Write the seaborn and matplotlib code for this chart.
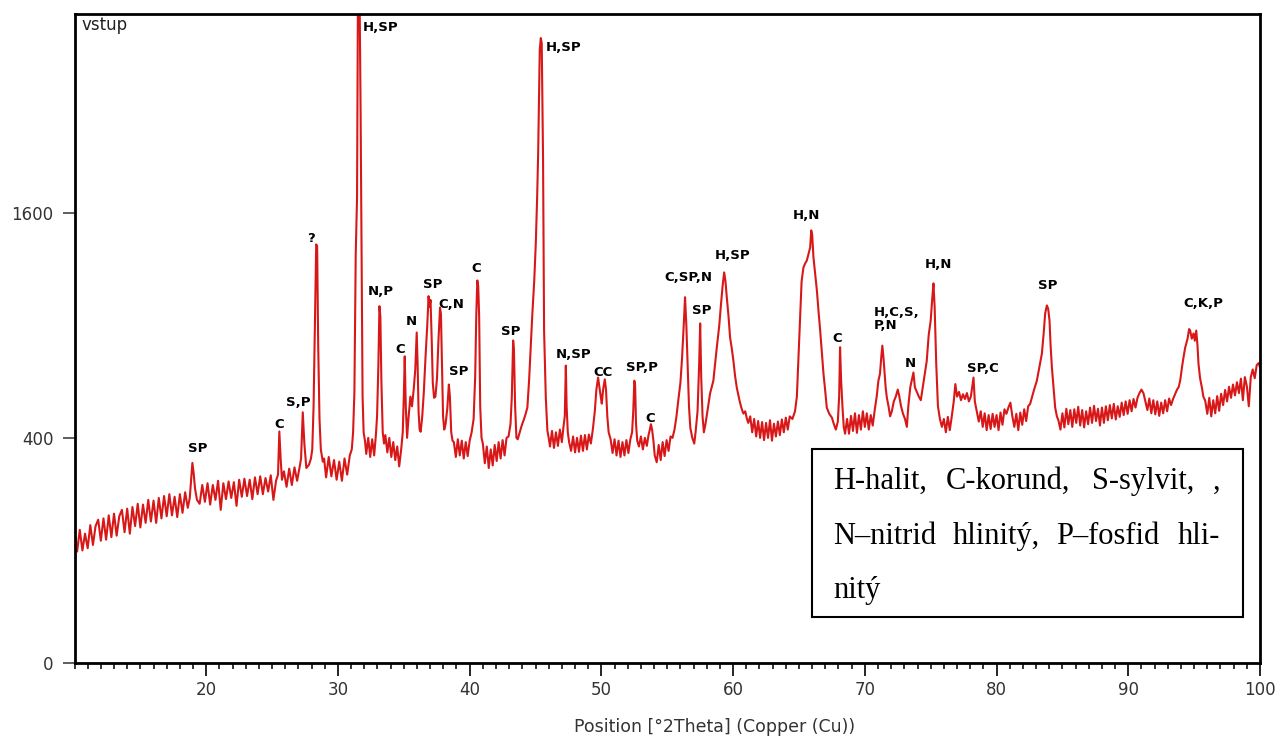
import numpy as np
import matplotlib
matplotlib.use("Agg")
import matplotlib.pyplot as plt
import seaborn as sns
from matplotlib.patches import Rectangle
from matplotlib.ticker import MultipleLocator, FixedLocator

# ---------------- data (2Theta [deg], counts) ----------------
seg_10_19 = [(10.0,135),(10.2,98),(10.4,140),(10.6,100),(10.8,132),(11.0,104),(11.2,150),(11.4,110),
             (11.6,148),(11.8,162),(12.0,118),(12.2,165),(12.4,120),(12.6,172),(12.8,125),(13.0,176),
             (13.2,128),(13.4,170),(13.6,185),(13.8,135),(14.0,188),(14.2,132),(14.4,192),(14.6,148),
             (14.8,200),(15.0,145),(15.2,198),(15.4,155),(15.6,210),(15.8,158),(16.0,208),(16.2,155),
             (16.4,215),(16.6,165),(16.8,220),(17.0,170),(17.2,225),(17.4,172),(17.6,218),(17.8,168),
             (18.0,225),(18.2,178),(18.4,230),(18.6,190),(18.75,215),(18.85,262),(18.95,316),(19.05,283),
             (19.15,240),(19.3,210)]
seg_19_28 = [(19.5,200),(19.7,250),(19.9,205),(20.1,255),(20.3,198),(20.5,250),(20.7,210),(20.9,262),
             (21.1,185),(21.3,255),(21.5,212),(21.7,260),(21.9,215),(22.1,258),(22.3,195),(22.5,265),
             (22.7,218),(22.9,268),(23.1,220),(23.3,265),(23.5,212),(23.7,272),(23.9,225),(24.1,275),
             (24.3,225),(24.5,270),(24.7,232),(24.9,278),(25.1,210),(25.3,262),(25.45,280),(25.55,423),
             (25.65,330),(25.75,265),(25.9,290),(26.1,245),(26.3,298),(26.5,250),(26.7,302),(26.9,262),
             (27.1,305),(27.2,330),(27.33,496),(27.45,380),(27.6,300),(27.8,310),(27.95,330)]
seg_28_33 = [(28.05,360),(28.15,520),(28.25,900),(28.35,1383),(28.42,1370),(28.5,800),(28.6,470),
             (28.7,360),(28.85,320),(28.95,330),(29.1,272),(29.3,335),(29.5,275),(29.7,325),(29.9,265),
             (30.1,320),(30.3,262),(30.5,330),(30.7,280),(30.9,340),(31.05,360),(31.15,420),(31.25,580),
             (31.35,1320),(31.45,1711),(31.52,3600),(31.62,3900),(31.72,2400),(31.8,1300),(31.87,560),
             (31.95,420),(32.05,390),(32.15,345),(32.3,400),(32.45,335),(32.6,395),(32.75,340),(32.88,410)]
seg_33_41 = [(32.97,480),(33.07,703),(33.15,1005),(33.22,950),(33.3,620),(33.4,420),(33.5,380),
             (33.6,410),(33.75,350),(33.9,400),(34.05,335),(34.2,385),(34.35,325),(34.5,370),(34.65,305),
             (34.8,360),(34.92,420),(35.0,560),(35.07,742),(35.15,520),(35.25,400),(35.35,470),(35.5,560),
             (35.62,520),(35.75,590),(35.87,680),(35.98,862),(36.05,700),(36.12,500),(36.2,430),(36.28,422),
             (36.4,480),(36.52,580),(36.65,740),(36.78,900),(36.88,1062),(36.95,1000),(37.03,1040),
             (37.12,820),(37.2,620),(37.3,555),(37.4,560),(37.52,640),(37.63,820),(37.75,997),(37.82,960),
             (37.9,700),(37.98,480),(38.07,430),(38.17,450),(38.3,510),(38.42,612),(38.5,560),(38.6,420),
             (38.7,390),(38.8,385),(38.95,335),(39.1,395),(39.25,340),(39.4,390),(39.55,330),(39.7,385),
             (39.85,338),(40.0,390),(40.15,420),(40.3,470),(40.42,650),(40.5,950),(40.58,1155),
             (40.65,1120),(40.72,950),(40.8,520),(40.9,400)]
seg_41_50 = [(41.0,380),(41.15,315),(41.3,370),(41.45,300),(41.6,360),(41.75,308),(41.9,375),
             (42.05,322),(42.2,385),(42.35,330),(42.5,392),(42.65,340),(42.8,400),(42.95,405),(43.1,450),
             (43.2,560),(43.3,821),(43.36,780),(43.45,520),(43.55,400),(43.65,395),(43.8,420),(43.92,440),
             (44.02,455),(44.13,470),(44.25,490),(44.38,515),(44.51,629),(44.64,800),(44.76,964),
             (44.9,1150),(45.02,1390),(45.12,1700),(45.2,2050),(45.32,2965),(45.4,3082),(45.47,3033),
             (45.57,2020),(45.65,872),(45.78,556),(45.9,426),(46.0,400),(46.1,370),(46.25,425),(46.4,365),
             (46.55,420),(46.7,372),(46.85,430),(47.0,385),(47.12,440),(47.22,480),(47.3,698),(47.36,520),
             (47.45,420),(47.55,385),(47.7,355),(47.85,405),(48.0,350),(48.15,400),(48.3,352),(48.45,408),
             (48.6,355),(48.75,410),(48.9,360),(49.05,412),(49.2,380),(49.35,430),(49.5,500),(49.62,590),
             (49.75,643),(49.85,600),(49.95,560),(50.03,531),(50.13,590),(50.26,635),(50.35,590),
             (50.45,480),(50.55,420)]
seg_50_58 = [(50.7,395),(50.85,348),(51.0,395),(51.15,340),(51.3,390),(51.45,335),(51.6,385),
             (51.75,340),(51.9,392),(52.05,348),(52.2,395),(52.33,420),(52.42,500),(52.5,629),(52.56,610),
             (52.63,450),(52.72,390),(52.85,370),(53.0,405),(53.15,360),(53.3,400),(53.45,372),(53.58,410),
             (53.68,430),(53.76,450),(53.85,430),(53.95,390),(54.05,340),(54.2,318),(54.35,375),(54.5,325),
             (54.65,385),(54.8,338),(54.95,392),(55.1,355),(55.25,405),(55.4,400),(55.55,430),(55.7,480),
             (55.85,550),(56.0,620),(56.12,730),(56.25,900),(56.35,1056),(56.45,900),(56.55,690),
             (56.65,520),(56.75,437),(56.9,400),(57.05,380),(57.15,420),(57.3,500),(57.42,700),(57.5,910),
             (57.58,640),(57.68,480),(57.78,420)]
seg_58_68 = [(57.9,450),(58.05,500),(58.25,573),(58.5,629),(58.76,785),(58.95,900),(59.06,998),
             (59.2,1120),(59.32,1204),(59.42,1150),(59.52,1055),(59.65,950),(59.77,836),(59.9,780),
             (60.02,722),(60.15,650),(60.28,598),(60.5,540),(60.65,510),(60.78,491),(60.92,500),(61.05,470),
             (61.15,455),(61.3,480),(61.45,420),(61.6,470),(61.75,405),(61.9,462),(62.05,400),(62.2,458),
             (62.35,392),(62.5,455),(62.65,400),(62.8,465),(62.95,390),(63.1,452),(63.25,405),(63.4,460),
             (63.55,410),(63.7,468),(63.85,420),(64.0,475),(64.15,430),(64.3,480),(64.5,470),(64.7,500),
             (64.84,560),(65.0,800),(65.09,964),(65.2,1150),(65.34,1235),(65.47,1260),(65.6,1279),
             (65.72,1320),(65.85,1363),(65.93,1477),(66.0,1450),(66.1,1298),(66.22,1200),(66.36,1095),
             (66.48,980),(66.61,872),(66.74,760),(66.86,661),(67.0,580),(67.11,515),(67.3,490),(67.5,475),
             (67.65,450),(67.8,430),(67.95,460)]
seg_68_78 = [(68.05,560),(68.12,787),(68.2,630),(68.3,520),(68.4,440),(68.5,415),(68.65,470),(68.8,415),
             (68.95,482),(69.1,425),(69.25,492),(69.4,418),(69.55,485),(69.7,430),(69.85,500),(70.0,440),
             (70.15,492),(70.3,430),(70.45,485),(70.6,445),(70.75,505),(70.9,560),(71.03,629),(71.15,660),
             (71.25,740),(71.33,795),(71.41,740),(71.49,675),(71.58,600),(71.67,556),(71.8,520),(71.92,480),
             (72.05,500),(72.2,540),(72.35,560),(72.5,590),(72.62,560),(72.75,520),(72.9,490),(73.05,470),
             (73.19,440),(73.3,520),(73.45,600),(73.6,640),(73.69,666),(73.8,600),(73.95,580),(74.1,560),
             (74.25,545),(74.4,600),(74.55,660),(74.7,720),(74.85,850),(75.0,926),(75.12,1050),
             (75.21,1137),(75.3,1000),(75.42,707),(75.55,520),(75.7,470),(75.85,440),(76.0,470),
             (76.15,420),(76.3,478),(76.45,428),(76.6,480),(76.75,540),(76.87,614),(77.0,560),(77.15,580),
             (77.3,545),(77.45,570),(77.6,550),(77.75,575),(77.9,540),(78.05,560),(78.15,600),(78.25,643),
             (78.35,540),(78.5,500)]
seg_78_85 = [(78.65,460),(78.8,500),(78.95,440),(79.1,492),(79.25,428),(79.4,485),(79.55,432),
             (79.7,490),(79.85,440),(80.0,485),(80.15,428),(80.3,495),(80.45,448),(80.6,508),(80.75,490),
             (80.9,515),(81.05,535),(81.2,480),(81.35,440),(81.5,490),(81.65,428),(81.8,495),(81.95,448),
             (82.1,508),(82.25,462),(82.4,520),(82.55,530),(82.7,560),(82.85,590),(83.06,629),(83.25,690),
             (83.44,755),(83.58,860),(83.69,964),(83.82,1009),(83.92,990),(84.02,926),(84.1,800),
             (84.2,690),(84.32,600),(84.45,515),(84.58,480),(84.7,464)]
seg_85_93 = [(84.85,430),(85.0,492),(85.15,438),(85.3,510),(85.45,450),(85.6,505),(85.75,440),
             (85.9,508),(86.05,455),(86.2,518),(86.35,445),(86.5,505),(86.65,438),(86.8,500),(86.95,450),
             (87.1,515),(87.25,455),(87.4,522),(87.55,462),(87.7,510),(87.85,445),(88.0,515),(88.15,455),
             (88.3,520),(88.45,465),(88.6,525),(88.75,472),(88.9,530),(89.05,468),(89.2,520),(89.35,478),
             (89.5,535),(89.65,485),(89.8,540),(89.95,490),(90.1,545),(90.25,500),(90.4,550),(90.55,515),
             (90.7,555),(90.85,575),(91.0,590),(91.15,575),(91.3,540),(91.45,505),(91.6,552),(91.75,492),
             (91.9,545),(92.05,488),(92.2,540),(92.35,482),(92.5,535),(92.65,492),(92.8,545),(92.95,500),
             (93.1,552),(93.25,525)]
seg_93_100 = [(93.4,550),(93.55,570),(93.7,590),(93.82,600),(93.94,629),(94.1,700),(94.2,740),
              (94.32,785),(94.5,830),(94.62,880),(94.7,872),(94.82,830),(94.95,857),(95.05,820),
              (95.16,872),(95.25,800),(95.33,707),(95.45,640),(95.59,598),(95.7,560),(95.84,543),
              (96.0,490),(96.15,555),(96.3,480),(96.45,545),(96.6,492),(96.75,562),(96.9,502),(97.05,572),
              (97.2,525),(97.35,588),(97.5,540),(97.65,602),(97.8,555),(97.95,612),(98.1,565),(98.25,622),
              (98.4,575),(98.55,638),(98.7,545),(98.85,645),(99.0,605),(99.15,520),(99.3,645),(99.45,680),
              (99.6,640),(99.75,700),(99.9,710),(100.0,690)]

# peak labels (text, 2Theta, counts of label centre)
peak_labels = ["SP", "C", "S,P", "?", "H,SP", "N,P", "C", "N", "SP", "C,N", "SP", "C", "SP",
               "H,SP", "N,SP", "CC", "SP,P", "C", "C,SP,N", "SP", "H,SP", "H,N", "C",
               "H,C,S,\nP,N", "N", "H,N", "SP,C", "SP", "C,K,P"]
label_theta = [19.34, 25.57, 26.97, 27.96, 33.27, 33.27, 34.75, 35.57, 37.22, 38.64, 39.16, 40.49, 43.14,
               47.13, 47.90, 50.09, 53.07, 53.70, 56.58, 57.61, 59.99, 65.60, 67.93,
               72.38, 73.42, 75.55, 78.93, 83.88, 95.71]
label_counts = [362, 448, 535, 1423, 3187, 1087, 778, 923, 1128, 1012, 669, 1229, 867,
                2992, 753, 667, 690, 473, 1173, 983, 1309, 1579, 831,
                935, 709, 1253, 686, 1123, 1018]

x_ticks = [20, 30, 40, 50, 60, 70, 80, 90, 100]
y_ticks = [0, 400, 1600]
sample_name = "vstup"
x_title = "Position [°2Theta] (Copper (Cu))"
legend_lines = [["H-halit,", "C-korund,", "S-sylvit,", ","],
                ["N\u2013nitrid", "hlinitý,", "P\u2013fosfid", "hli-"],
                ["nitý"]]

# ---------------- figure ----------------
segments = [seg_10_19, seg_19_28, seg_28_33, seg_33_41, seg_41_50, seg_50_58,
            seg_58_68, seg_68_78, seg_78_85, seg_85_93, seg_93_100]
theta = [p[0] for s in segments for p in s]
counts = [p[1] for s in segments for p in s]

sns.set_theme(style="white")
plt.rcParams['font.family'] = ['DejaVu Sans']

W, H = 1277, 738
fig = plt.figure(figsize=(W / 100, H / 100), dpi=100)
fig.patch.set_facecolor("white")
x0, x1, ytop, ybot = 74.5, 1260, 14, 663
ax = fig.add_axes([x0 / W, 1 - ybot / H, (x1 - x0) / W, (ybot - ytop) / H])
ax.set_facecolor("white")

sns.lineplot(x=theta, y=counts, ax=ax, color="#d81818", linewidth=1.5,
             estimator=None, sort=False)

ax.set_yscale("function", functions=(lambda v: np.sqrt(np.clip(v, 0, None)),
                                      lambda v: np.square(v)))
ax.set_xlim(10, 100)
ax.set_ylim(0, 3324)

ax.xaxis.set_major_locator(FixedLocator(x_ticks))
ax.xaxis.set_minor_locator(MultipleLocator(1))
ax.yaxis.set_major_locator(FixedLocator(y_ticks))
ax.yaxis.set_minor_locator(FixedLocator([]))
ax.tick_params(axis="x", which="major", direction="out", length=9, width=1.2,
               color="black", labelsize=12, labelcolor="#333333", pad=4, bottom=True)
ax.tick_params(axis="x", which="minor", direction="out", length=4.5, width=1.1,
               color="black", bottom=True)
ax.tick_params(axis="y", which="major", direction="out", length=9, width=1.1,
               color="#333333", labelsize=12, labelcolor="#333333", pad=6, left=True)
for sp in ax.spines.values():
    sp.set_visible(True)
    sp.set_color("black")
    sp.set_linewidth(2.0)
ax.set_xlabel("")
ax.set_ylabel("")
ax.grid(False)

for t, xv, yv in zip(peak_labels, label_theta, label_counts):
    ax.text(xv, yv, t, ha="center", va="center", fontsize=9.5, fontweight="bold",
            color="black", multialignment="left", linespacing=1.0)

fig.text(81 / W, 1 - 25.5 / H, sample_name, ha="left", va="center", fontsize=12, color="#222222")
fig.text(715 / W, 1 - 727 / H, x_title, ha="center", va="center", fontsize=12.5, color="#333333")

# legend box
bx0, bx1, by0, by1 = 812, 1243, 449, 617
fig.add_artist(Rectangle((bx0 / W, 1 - by1 / H), (bx1 - bx0) / W, (by1 - by0) / H,
                         transform=fig.transFigure, facecolor="white", edgecolor="black",
                         linewidth=1.5, zorder=5))
word_x = [[833, 946, 1092, 1213], [833, 953, 1056, 1178], [833]]
baselines = [489, 544, 598]
for words, xs, yb in zip(legend_lines, word_x, baselines):
    for w, xp in zip(words, xs):
        fig.text(xp / W, 1 - yb / H, w, ha="left", va="baseline", fontsize=22,
                 family="Liberation Serif", color="black", zorder=6)

fig.savefig("out.png", dpi=100)
